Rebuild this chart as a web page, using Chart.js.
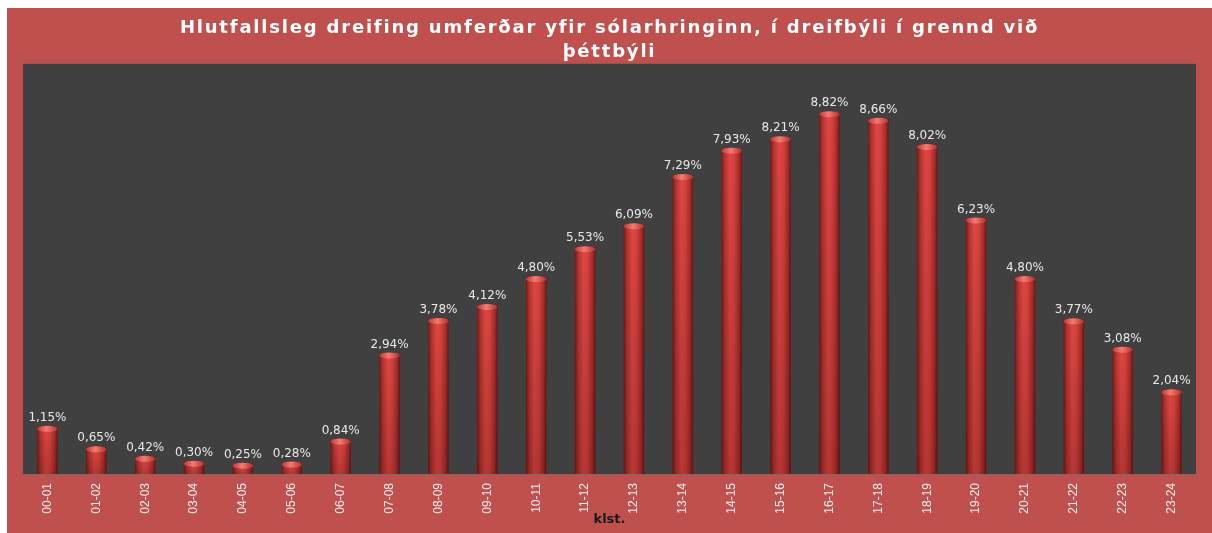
<!DOCTYPE html>
<html>
<head>
<meta charset="utf-8">
<script src="https://cdn.jsdelivr.net/npm/chart.js@4/dist/chart.umd.min.js"></script>
<style>
  html, body { margin: 0; padding: 0; background: #ffffff; }
  #wrap { position: absolute; left: 7px; top: 8px; width: 1205px; height: 525px; }
</style>
</head>
<body>
<div id="wrap"><canvas id="chart"></canvas></div>
<script>
// hour intervals and share of daily traffic (%)
var hours = ['00-01', '01-02', '02-03', '03-04', '04-05', '05-06', '06-07', '07-08',
             '08-09', '09-10', '10-11', '11-12', '12-13', '13-14', '14-15', '15-16',
             '16-17', '17-18', '18-19', '19-20', '20-21', '21-22', '22-23', '23-24'];
var shares = [1.15, 0.65, 0.42, 0.30, 0.25, 0.28, 0.84, 2.94,
              3.78, 4.12, 4.80, 5.53, 6.09, 7.29, 7.93, 8.21,
              8.82, 8.66, 8.02, 6.23, 4.80, 3.77, 3.08, 2.04];
var titleLines = ['Hlutfallsleg dreifing umferðar yfir sólarhringinn, í dreifbýli í grennd við', 'þéttbýli'];
var axisTitle = 'klst.';

var BAR_PCT = 0.42;

function fmt(v) {
    return v.toFixed(2).replace('.', ',') + '%';
}

/**
 * horizontal gradient across each bar so it looks like a cylinder
 */
function barFill(ctx) {
    var chart = ctx.chart;
    var xs = chart.scales.x;
    if (!xs || !chart.chartArea) return '#c43a36';
    var cx = xs.getPixelForValue(ctx.dataIndex);
    var half = (xs.width / hours.length) * BAR_PCT / 2;
    var g = chart.ctx.createLinearGradient(cx - half, 0, cx + half, 0);
    g.addColorStop(0, '#701b1a');
    g.addColorStop(0.16, '#b3322e');
    g.addColorStop(0.42, '#e04743');
    g.addColorStop(0.62, '#d6423e');
    g.addColorStop(0.86, '#a82c29');
    g.addColorStop(1, '#651716');
    return g;
}

// dark plot area behind the bars
var plotBg = {
    id: 'plotBg',
    beforeDatasetsDraw: function(chart) {
        var a = chart.chartArea, c = chart.ctx;
        c.save();
        c.fillStyle = '#404040';
        c.fillRect(a.left, a.top, a.right - a.left, a.bottom - a.top);
        c.restore();
    }
};

// wider letter spacing for the title only (the original is stretched)
var titleSpacing = {
    id: 'titleSpacing',
    afterLayout: function(chart) {
        var tb = chart.titleBlock;
        if (!tb || tb._spaced) return;
        var orig = tb.draw;
        tb.draw = function() {
            chart.ctx.letterSpacing = '1.8px';
            orig.apply(this, arguments);
            chart.ctx.letterSpacing = '0px';
        };
        tb._spaced = true;
    }
};

// shading, light cap on top of each bar and the value labels
var barDecor = {
    id: 'barDecor',
    afterDatasetsDraw: function(chart) {
        var c = chart.ctx;
        var base = chart.chartArea.bottom;
        var meta = chart.getDatasetMeta(0);
        c.save();
        meta.data.forEach(function(bar, i) {
            var w = bar.width / 2;
            var vg = c.createLinearGradient(0, bar.y, 0, base);
            vg.addColorStop(0, 'rgba(0,0,0,0)');
            vg.addColorStop(1, 'rgba(40,0,0,0.22)');
            c.fillStyle = vg;
            c.fillRect(bar.x - w, bar.y, bar.width, base - bar.y);

            var g = c.createLinearGradient(bar.x - w, 0, bar.x + w, 0);
            g.addColorStop(0, '#b83a36');
            g.addColorStop(0.45, '#f27c74');
            g.addColorStop(1, '#b0302c');
            c.fillStyle = g;
            c.beginPath();
            c.ellipse(bar.x, bar.y + 2, w, 3, 0, 0, Math.PI * 2);
            c.fill();

            c.fillStyle = '#e8e8e8';
            c.font = '12px "DejaVu Sans", Verdana, sans-serif';
            c.textAlign = 'center';
            c.textBaseline = 'bottom';
            c.fillText(fmt(shares[i]), bar.x, bar.y - 3);
        });
        c.restore();
    }
};

new Chart(document.getElementById('chart').getContext('2d'), {
    type: 'bar',
    data: {
        labels: hours,
        datasets: [{
            data: shares,
            backgroundColor: barFill,
            borderWidth: 0,
            barPercentage: BAR_PCT,
            categoryPercentage: 1
        }]
    },
    options: {
        responsive: true,
        maintainAspectRatio: false,
        animation: false,
        events: [],
        layout: { padding: { left: 16, right: 16, top: 0, bottom: 0 } },
        plugins: {
            legend: { display: false },
            tooltip: { enabled: false },
            title: {
                display: true,
                text: titleLines,
                color: '#ffffff',
                font: { family: '"DejaVu Sans", sans-serif', size: 18, weight: 'bold', lineHeight: 1.3 },
                padding: { top: 9, bottom: 0 }
            }
        },
        scales: {
            x: {
                grid: { display: false, drawTicks: false },
                border: { display: true, color: '#6e6e6e', width: 2 },
                ticks: {
                    color: '#f2f2f2',
                    font: { family: '"Liberation Sans Narrow", "Liberation Sans", sans-serif', size: 12 },
                    maxRotation: 90,
                    minRotation: 90,
                    padding: 9,
                    autoSkip: false
                },
                title: {
                    display: true,
                    text: axisTitle,
                    color: '#1a1a1a',
                    font: { family: '"DejaVu Sans", sans-serif', size: 13, weight: 'bold' },
                    padding: { top: -8, bottom: 6 }
                },
                afterFit: function(scale) { scale.height = 59; }
            },
            y: {
                display: false,
                min: 0,
                max: 10
            }
        }
    },
    plugins: [plotBg, titleSpacing, barDecor]
});

document.getElementById('wrap').style.background = '#c0504d';
</script>
</body>
</html>
